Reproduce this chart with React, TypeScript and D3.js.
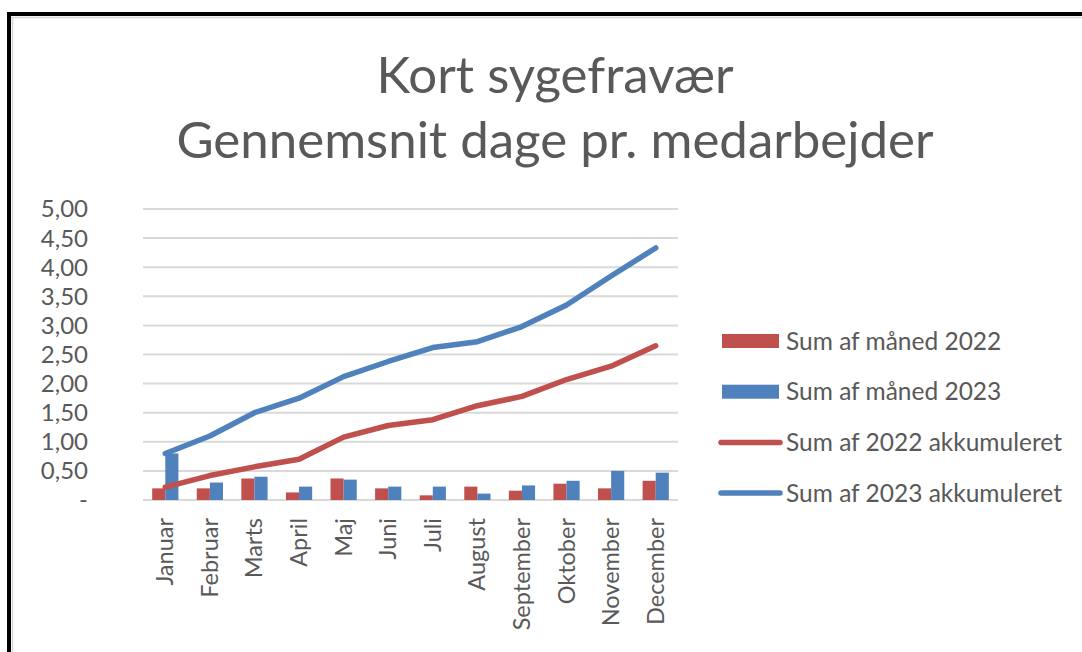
import { useEffect, useRef } from 'react'
import * as d3 from 'd3'

const months = ['Januar', 'Februar', 'Marts', 'April', 'Maj', 'Juni', 'Juli', 'August', 'September', 'Oktober', 'November', 'December']
const month2022 = [0.2, 0.2, 0.37, 0.13, 0.37, 0.2, 0.08, 0.23, 0.16, 0.28, 0.2, 0.33]
const month2023 = [0.8, 0.3, 0.4, 0.23, 0.35, 0.23, 0.23, 0.11, 0.25, 0.33, 0.5, 0.47]
const acc2022 = [0.22, 0.42, 0.57, 0.7, 1.08, 1.28, 1.38, 1.62, 1.78, 2.07, 2.3, 2.65]
const acc2023 = [0.8, 1.1, 1.5, 1.75, 2.12, 2.38, 2.62, 2.72, 2.98, 3.35, 3.85, 4.33]
const yTicks = [0, 0.5, 1, 1.5, 2, 2.5, 3, 3.5, 4, 4.5, 5]
const titleLines = ['Kort sygefravær', 'Gennemsnit dage pr. medarbejder']
const legendItems = [
  { label: 'Sum af måned 2022', color: '#C0504D', kind: 'bar' },
  { label: 'Sum af måned 2023', color: '#4F81BD', kind: 'bar' },
  { label: 'Sum af 2022 akkumuleret', color: '#C0504D', kind: 'line' },
  { label: 'Sum af 2023 akkumuleret', color: '#4F81BD', kind: 'line' },
]

const RED = '#C0504D'
const BLUE = '#4F81BD'
const TEXT = '#595959'
const FONT = 'Lato, "Open Sans", sans-serif'

export default function App() {
  const svgRef = useRef<SVGSVGElement>(null)

  useEffect(() => {
    if (!svgRef.current) return
    const svg = d3.select(svgRef.current)
    svg.selectAll('*').remove()

    const W = 1082
    const H = 652
    svg.attr('width', W).attr('height', H).attr('viewBox', `0 0 ${W} ${H}`)

    svg.append('rect').attr('width', W).attr('height', H).attr('fill', '#fff')

    // frame
    svg.append('rect')
      .attr('x', 9).attr('y', 14).attr('width', W + 20).attr('height', H + 20)
      .attr('fill', 'none').attr('stroke', '#000').attr('stroke-width', 4)
    svg.append('line')
      .attr('x1', 11).attr('x2', W).attr('y1', 17.5).attr('y2', 17.5)
      .attr('stroke', '#d4d4d4').attr('stroke-width', 1.5)
    svg.append('line')
      .attr('x1', 12.5).attr('x2', 12.5).attr('y1', 17).attr('y2', H)
      .attr('stroke', '#d4d4d4').attr('stroke-width', 1.5)

    // title
    const title = svg.append('text')
      .attr('text-anchor', 'middle').attr('fill', TEXT)
      .attr('font-family', FONT).attr('font-weight', 400).attr('font-size', 51)
    titleLines.forEach((t, i) => {
      title.append('tspan').attr('x', 555).attr('y', 93 + i * 65).text(t)
    })

    const x = d3.scaleBand<string>().domain(months).range([143, 678]).padding(0)
    const inner = d3.scaleBand<string>().domain(['2022', '2023'])
      .range([0, x.bandwidth()]).paddingInner(0).paddingOuter(0.7)
    const y = d3.scaleLinear().domain([0, 5]).range([500, 209])

    const loc = d3.formatLocale({ decimal: ',', thousands: '.', grouping: [3], currency: ['', ' kr'] })
    const fmt = loc.format('.2f')

    // gridlines
    svg.append('g').selectAll('line')
      .data(yTicks)
      .join('line')
      .attr('x1', 143).attr('x2', 678)
      .attr('y1', (d) => y(d)).attr('y2', (d) => y(d))
      .attr('stroke', '#d9d9d9').attr('stroke-width', 2)

    // y labels
    svg.append('g').selectAll('text')
      .data(yTicks)
      .join('text')
      .attr('x', 88).attr('y', (d) => y(d))
      .attr('dy', '0.35em')
      .attr('text-anchor', 'end')
      .attr('font-family', FONT).attr('font-size', 24).attr('fill', TEXT)
      .text((d) => (d === 0 ? '-' : fmt(d)))

    // bars
    const barSeries = [
      { key: '2022', values: month2022, color: RED },
      { key: '2023', values: month2023, color: BLUE },
    ]
    barSeries.forEach((s) => {
      svg.append('g').selectAll('rect')
        .data(s.values)
        .join('rect')
        .attr('x', (_, i) => (x(months[i]) ?? 0) + (inner(s.key) ?? 0))
        .attr('width', inner.bandwidth())
        .attr('y', (d) => y(d))
        .attr('height', (d) => y(0) - y(d))
        .attr('fill', s.color)
    })

    // accumulated lines
    const line = d3.line<number>()
      .x((_, i) => (x(months[i]) ?? 0) + x.bandwidth() / 2)
      .y((d) => y(d))
    ;[{ values: acc2022, color: RED }, { values: acc2023, color: BLUE }].forEach((s) => {
      svg.append('path')
        .datum(s.values)
        .attr('d', line)
        .attr('fill', 'none')
        .attr('stroke', s.color)
        .attr('stroke-width', 5.5)
        .attr('stroke-linejoin', 'round')
        .attr('stroke-linecap', 'round')
    })

    // x labels
    svg.append('g').selectAll('text')
      .data(months)
      .join('text')
      .attr('transform', (d) => `translate(${(x(d) ?? 0) + x.bandwidth() / 2 + 8},518) rotate(-90)`)
      .attr('text-anchor', 'end')
      .attr('font-family', FONT).attr('font-size', 23.5).attr('fill', TEXT)
      .text((d) => d)

    // legend
    const legend = svg.append('g')
    legendItems.forEach((item, i) => {
      const cy = 341 + i * 50.7
      if (item.kind === 'bar') {
        legend.append('rect')
          .attr('x', 722).attr('y', cy - 7).attr('width', 57).attr('height', 14)
          .attr('fill', item.color)
      } else {
        legend.append('line')
          .attr('x1', 721).attr('x2', 780).attr('y1', cy).attr('y2', cy)
          .attr('stroke', item.color).attr('stroke-width', 5.5)
          .attr('stroke-linecap', 'round')
      }
      legend.append('text')
        .attr('x', 786).attr('y', cy).attr('dy', '0.35em')
        .attr('font-family', FONT).attr('font-size', 24.5).attr('fill', TEXT)
        .text(item.label)
    })
  }, [])

  return (
    <div>
      <style>{'body{margin:0}'}</style>
      <svg ref={svgRef} style={{ display: 'block' }} />
    </div>
  )
}
